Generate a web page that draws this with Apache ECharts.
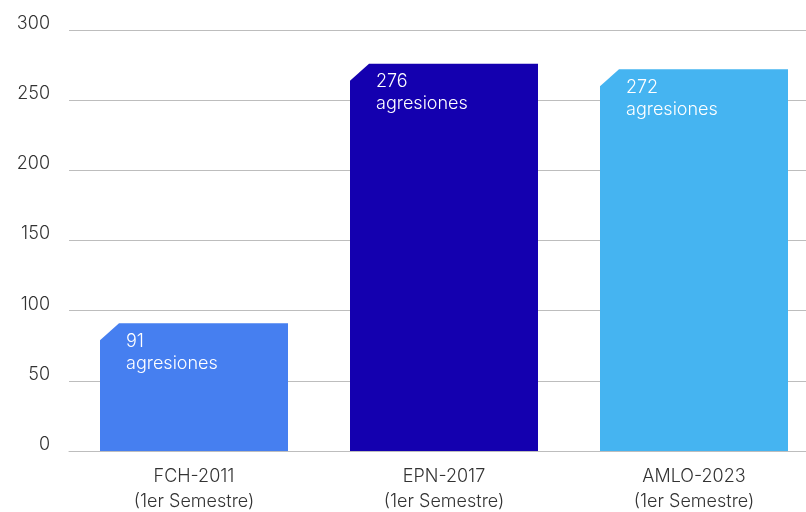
<!DOCTYPE html>
<html><head><meta charset="utf-8">
<script src="https://cdn.jsdelivr.net/npm/echarts@6/dist/echarts.min.js"></script>
<style>html,body{margin:0;padding:0;background:#fff}#c{width:806px;height:512px}</style>
</head><body><div id="c"></div>
<script>
const categories = ['FCH-2011\n(1er Semestre)', 'EPN-2017\n(1er Semestre)', 'AMLO-2023\n(1er Semestre)'];
const values = [91, 276, 272];
const unitLabel = 'agresiones';
const barColors = ['#467FF0', '#1400AF', '#45B4F1'];
const yTicks = [0, 50, 100, 150, 200, 250, 300];

const FONT = 'Inter';
const chart = echarts.init(document.getElementById('c'));
chart.setOption({
  animation: false,
  grid: {left: 69, right: -13, top: 30, bottom: 61, outerBoundsMode: 'none', containLabel: false},
  xAxis: {
    type: 'category', data: categories,
    axisLine: {show: true, lineStyle: {color: '#bdbdbd', width: 1}},
    axisTick: {show: false},
    axisLabel: {color: '#333', fontFamily: FONT, fontWeight: 300, fontSize: 18, lineHeight: 25, margin: 13}
  },
  yAxis: {
    type: 'value', min: yTicks[0], max: yTicks[yTicks.length - 1], interval: 50,
    axisLine: {show: false}, axisTick: {show: false},
    splitLine: {lineStyle: {color: '#bdbdbd', width: 1}},
    axisLabel: {color: '#333', fontFamily: FONT, fontWeight: 300, fontSize: 18, margin: 19,
      verticalAlign: 'bottom', lineHeight: 13}
  },
  series: [{
    type: 'custom',
    data: values.map((v, i) => [i, v]),
    renderItem: function (params, api) {
      const i = api.value(0), v = api.value(1);
      const top = api.coord([i, v]);
      const bot = api.coord([i, 0]);
      const w = 188;
      const x0 = top[0] - w / 2, x1 = top[0] + w / 2;
      const cx = 19, cy = 17;
      return {
        type: 'group',
        children: [{
          type: 'polygon',
          shape: {points: [[x0, top[1] + cy], [x0 + cx, top[1]], [x1, top[1]], [x1, bot[1]], [x0, bot[1]]]},
          style: {fill: barColors[i]}
        }, {
          type: 'text',
          x: x0 + 26, y: top[1] + 7,
          style: {
            text: v + '\n' + unitLabel,
            fill: '#fff', font: '300 18px "' + FONT + '"', lineHeight: 22,
            textAlign: 'left', textVerticalAlign: 'top'
          }
        }]
      };
    }
  }]
});
</script></body></html>
